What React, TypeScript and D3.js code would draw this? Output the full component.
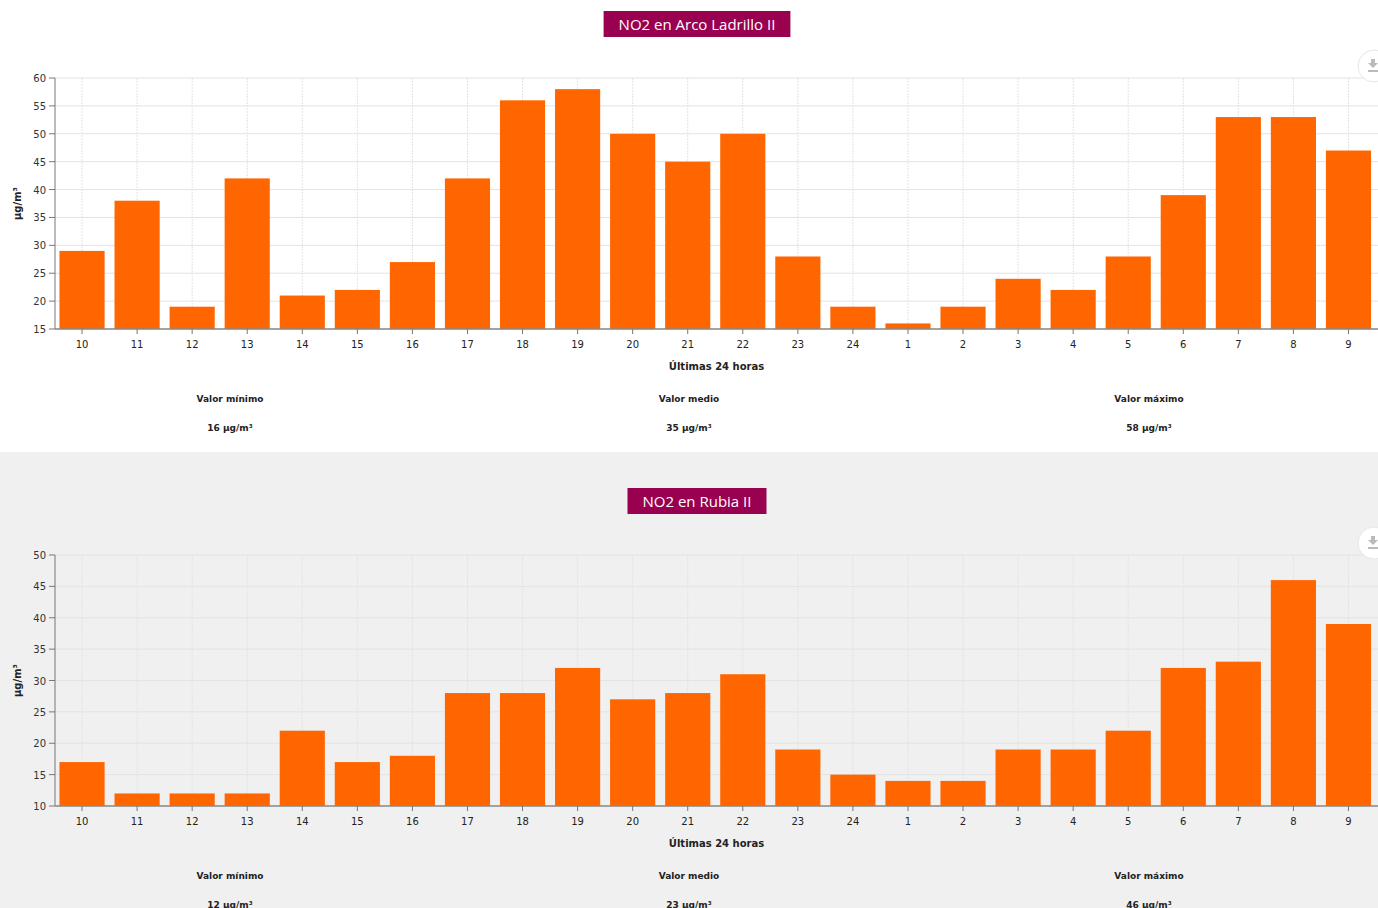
import React from 'react';
import * as d3 from 'd3';

const hours = ['10', '11', '12', '13', '14', '15', '16', '17', '18', '19', '20', '21', '22', '23', '24', '1', '2', '3', '4', '5', '6', '7', '8', '9'];
const arcoLadrillo = [29, 38, 19, 42, 21, 22, 27, 42, 56, 58, 50, 45, 50, 28, 19, 16, 19, 24, 22, 28, 39, 53, 53, 47];
const rubia = [17, 12, 12, 12, 22, 17, 18, 28, 28, 32, 27, 28, 31, 19, 15, 14, 14, 19, 19, 22, 32, 33, 46, 39];
const arcoTicks = [15, 20, 25, 30, 35, 40, 45, 50, 55, 60];
const rubiaTicks = [10, 15, 20, 25, 30, 35, 40, 45, 50];

const W = 1378;
const PANEL_H = 477;
const margin = { top: 103, left: 55, right: 2, bottom: 0 };
const plotH = 251;
const font = '"DejaVu Sans", Verdana, sans-serif';
const titleFont = '15px "Open Sans", sans-serif';

// measure title text so the box hugs it like the original
const measure = (s) => {
  const ctx = document.createElement('canvas').getContext('2d');
  ctx.font = titleFont;
  return ctx.measureText(s).width;
};

const Panel = ({ title, values, ticks, y0, bg }) => {
  const x = d3.scaleBand().domain(hours).range([margin.left - 0.5, W - margin.right]).paddingInner(0.18).paddingOuter(0.09);
  const y = d3.scaleLinear().domain([ticks[0], ticks[ticks.length - 1]]).range([margin.top + plotH, margin.top]);
  const bottom = margin.top + plotH;
  const cx = (margin.left + W) / 2;
  const min = d3.min(values);
  const mean = Math.round(d3.mean(values));
  const max = d3.max(values);
  const titleW = measure(title) + 30;
  const stats = [
    { label: 'Valor mínimo', v: min, x: 230 },
    { label: 'Valor medio', v: mean, x: 689 },
    { label: 'Valor máximo', v: max, x: 1149 },
  ];
  return (
    <g transform={`translate(0,${y0})`}>
      <rect x={0} y={0} width={W} height={PANEL_H} fill={bg} />
      <rect x={697 - titleW / 2} y={36} width={titleW} height={26} fill="#990050" />
      <text x={697} y={55} textAnchor="middle" fill="#fff" fontFamily='"Open Sans", sans-serif' fontSize={15}>{title}</text>

      {/* grid */}
      {ticks.map((t) => (
        <line key={'h' + t} x1={margin.left} x2={W} y1={y(t)} y2={y(t)} stroke="#e3e3e3" />
      ))}
      {hours.map((h) => (
        <line key={'v' + h} x1={x(h) + x.bandwidth() / 2} x2={x(h) + x.bandwidth() / 2} y1={margin.top} y2={bottom} stroke="#e3e3e3" strokeDasharray="2,1" />
      ))}

      {/* bars */}
      {values.map((v, i) => (
        <rect key={i} x={x(hours[i])} y={y(v)} width={x.bandwidth()} height={bottom - y(v)} fill="#ff6600" />
      ))}

      {/* axes */}
      <line x1={margin.left} x2={margin.left} y1={margin.top} y2={bottom} stroke="#777" />
      {ticks.map((t) => (
        <g key={'yt' + t}>
          <line x1={margin.left - 6} x2={margin.left} y1={y(t)} y2={y(t)} stroke="#777" />
          <text x={margin.left - 9} y={y(t) + 4} textAnchor="end" fontFamily={font} fontSize={10} fill="#333">{t}</text>
        </g>
      ))}
      <line x1={margin.left} x2={W} y1={bottom} y2={bottom} stroke="#888" strokeWidth={1.5} />
      {hours.map((h) => (
        <g key={'xt' + h}>
          <line x1={x(h) + x.bandwidth() / 2} x2={x(h) + x.bandwidth() / 2} y1={bottom} y2={bottom + 5} stroke="#777" />
          <text x={x(h) + x.bandwidth() / 2} y={bottom + 19} textAnchor="middle" fontFamily={font} fontSize={10} fill="#222">{h}</text>
        </g>
      ))}
      <text transform={`translate(21,${(margin.top + bottom) / 2}) rotate(-90)`} textAnchor="middle" fontFamily={font} fontSize={10} fontWeight="bold" fill="#222">µg/m³</text>
      <text x={cx} y={bottom + 41} textAnchor="middle" fontFamily={font} fontSize={10} fontWeight="bold" fill="#222">Últimas 24 horas</text>

      {stats.map((s) => (
        <g key={s.label}>
          <text x={s.x} y={bottom + 73} textAnchor="middle" fontFamily={font} fontSize={9} fontWeight="bold" fill="#222">{s.label}</text>
          <text x={s.x} y={bottom + 102} textAnchor="middle" fontFamily={font} fontSize={9} fontWeight="bold" fill="#222">{s.v} µg/m³</text>
        </g>
      ))}

      {/* download button */}
      <circle cx={1374} cy={91} r={16} fill="#fff" stroke="#e6e6e6" />
      <path d="M1371,84 h4 v4 h3 l-5,5 l-5,-5 h3 z" fill="#bbb" />
      <rect x={1368} y={95} width={10} height={2} fill="#bbb" />
    </g>
  );
};

export default function App() {
  return (
    <div>
      <style>{'body{margin:0;overflow:hidden;}'}</style>
      <svg width={W} height={908} style={{ display: 'block' }}>
        <Panel title="NO2 en Arco Ladrillo II" values={arcoLadrillo} ticks={arcoTicks} y0={-25} bg="#ffffff" />
        <Panel title="NO2 en Rubia II" values={rubia} ticks={rubiaTicks} y0={452} bg="#f0f0f0" />
      </svg>
    </div>
  );
}
